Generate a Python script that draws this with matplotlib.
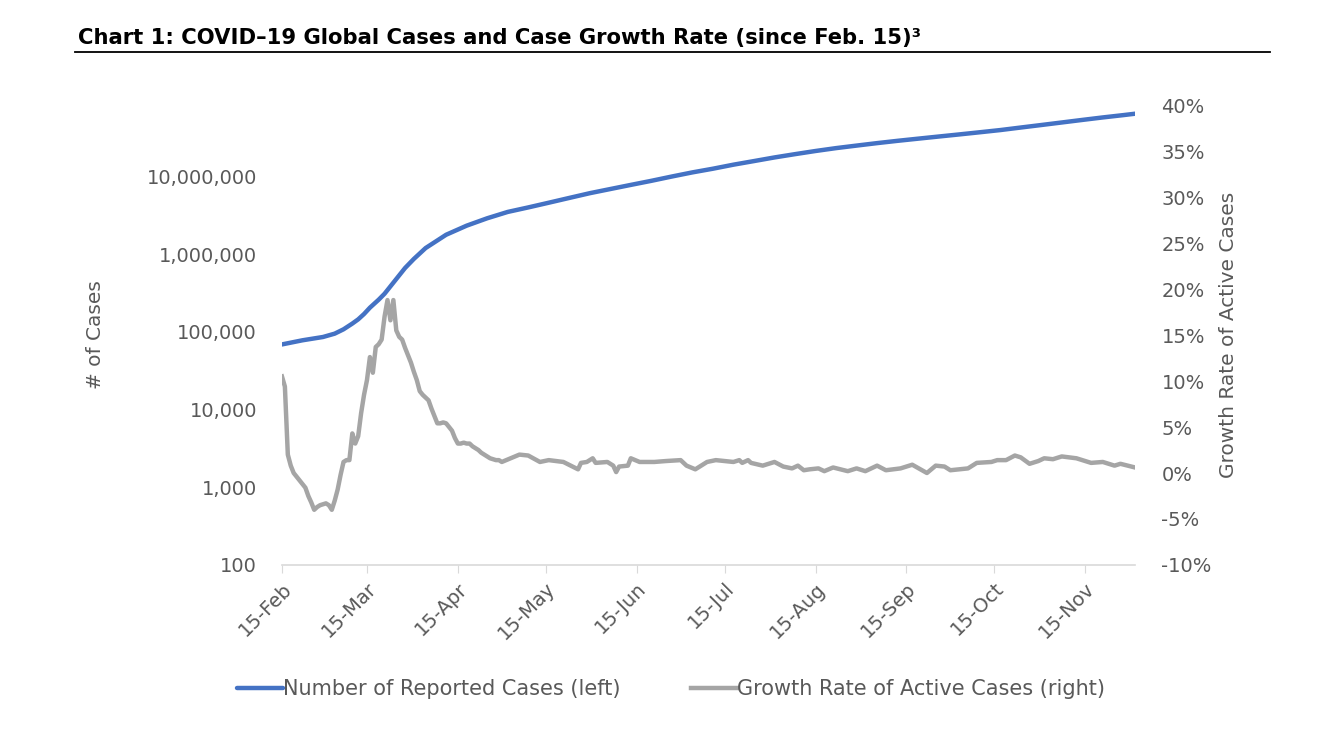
import matplotlib
matplotlib.use("Agg")
import matplotlib.pyplot as plt
import matplotlib.dates as mdates
from matplotlib.ticker import FuncFormatter, FixedLocator
import pandas as pd

plt.rcParams['font.family'] = ['DejaVu Sans']

START = pd.Timestamp('2020-02-15')

# reported cases (left axis), days since Feb 15
case_days = [0, 7, 14, 18, 21, 24, 26, 28, 30, 33, 35, 38, 42, 45, 49, 56, 63, 70, 77,
             84, 91, 98, 105, 112, 119, 126, 133, 140, 147, 154, 161, 168, 175,
             182, 189, 196, 203, 210, 217, 224, 231, 238, 245, 252, 259, 266,
             273, 280, 287, 291]
cases = [69e3, 78e3, 86e3, 95e3, 108e3, 128e3, 145e3, 170e3, 205e3, 260e3, 310e3, 430e3,
         665e3, 870e3, 1.2e6, 1.78e6, 2.33e6, 2.9e6, 3.5e6,
         4.0e6, 4.6e6, 5.3e6, 6.1e6, 6.9e6, 7.8e6, 8.8e6, 10.0e6, 11.3e6, 12.6e6,
         14.2e6, 15.8e6, 17.6e6, 19.4e6,
         21.3e6, 23.2e6, 25.0e6, 26.9e6, 28.8e6, 30.7e6, 32.7e6, 34.8e6, 37.1e6,
         39.6e6, 42.7e6, 46.0e6, 49.6e6, 53.5e6, 57.6e6, 61.7e6, 64.3e6]

# growth rate of active cases in % (right axis), days since Feb 15
growth_days = list(range(0, 75)) + [
    75, 81, 84, 88, 91, 96, 101, 102, 104, 106, 107, 111, 113, 114, 115, 118, 119,
    122, 127, 131, 136, 138, 141, 145, 148, 154, 156, 157, 159, 160, 164, 168,
    171, 174, 176, 178, 180, 183, 185, 188, 193, 196, 199, 203, 206, 211, 215,
    220, 223, 226, 228, 234, 237, 242, 244, 247, 250, 252, 255, 258, 260, 263,
    266, 271, 276, 280, 284, 286, 291]
growth = [10.5, 9.4, 2.0, 0.8, 0.0, -0.4, -0.8, -1.2, -1.6, -2.5, -3.2, -4.0, -3.7,
          -3.5, -3.4, -3.3, -3.5, -4.0, -3.0, -1.8, -0.2, 1.2, 1.4, 1.4, 4.3, 3.2,
          4.0, 6.5, 8.5, 10.1, 12.6, 10.9, 13.7, 14.0, 14.5, 17.0, 18.8, 16.6, 18.8,
          15.5, 14.8, 14.5, 13.6, 12.8, 12.0, 11.0, 10.1, 8.9, 8.5, 8.2, 7.9, 7.0,
          6.2, 5.4, 5.4, 5.5, 5.4, 5.0, 4.6, 3.8, 3.2, 3.2, 3.3, 3.2, 3.2, 2.9, 2.7,
          2.5, 2.2, 2.0, 1.8, 1.6, 1.5, 1.4, 1.4] + [
    1.2, 2.0, 1.9, 1.2, 1.4, 1.2, 0.4, 1.1, 1.2, 1.6, 1.1, 1.2, 0.8, 0.1, 0.7, 0.8,
    1.6, 1.2, 1.2, 1.3, 1.4, 0.8, 0.4, 1.2, 1.4, 1.2, 1.4, 1.1, 1.4, 1.1, 0.8, 1.2,
    0.7, 0.5, 0.8, 0.3, 0.4, 0.5, 0.2, 0.6, 0.2, 0.5, 0.2, 0.8, 0.3, 0.5, 0.9,
    0.0, 0.8, 0.7, 0.3, 0.5, 1.1, 1.2, 1.4, 1.4, 1.9, 1.7, 1.0, 1.3, 1.6, 1.5,
    1.8, 1.6, 1.1, 1.2, 0.8, 1.0, 0.6]

left_ticks = [100, 1000, 10000, 100000, 1000000, 10000000]
right_ticks = [-10, -5, 0, 5, 10, 15, 20, 25, 30, 35, 40]
tick_months = ['2020-02-15', '2020-03-15', '2020-04-15', '2020-05-15', '2020-06-15',
               '2020-07-15', '2020-08-15', '2020-09-15', '2020-10-15', '2020-11-15']

BLUE = '#4472C4'
GRAY = '#A5A5A5'
TXT = '#595959'

case_dates = START + pd.to_timedelta(case_days, unit='D')
growth_dates = START + pd.to_timedelta(growth_days, unit='D')

fig = plt.figure(figsize=(13.42, 7.35), dpi=100)
ax = fig.add_axes([0.2101, 0.2313, 0.6357, 0.6258])
ax2 = ax.twinx()

l1, = ax.plot(case_dates, cases, color=BLUE, lw=3.2, solid_capstyle='round',
              label='Number of Reported Cases (left)', zorder=3)
l2, = ax2.plot(growth_dates, growth, color=GRAY, lw=3.2,
               label='Growth Rate of Active Cases (right)', zorder=2)
ax.set_zorder(ax2.get_zorder() + 1)
ax.patch.set_visible(False)

ax.set_yscale('log')
ax.set_ylim(100, 10 ** 7.92)
ax.yaxis.set_major_locator(FixedLocator(left_ticks))
ax.yaxis.set_minor_locator(FixedLocator([]))
ax.yaxis.set_major_formatter(FuncFormatter(lambda v, p: f"{v:,.0f}"))

ax2.set_ylim(-10, 40)
ax2.set_yticks(right_ticks)
ax2.yaxis.set_major_formatter(FuncFormatter(lambda v, p: f"{v:.0f}%"))

ax.set_xlim(START, START + pd.Timedelta(days=291))
ax.set_xticks(pd.to_datetime(tick_months))
ax.xaxis.set_major_formatter(mdates.DateFormatter('%d-%b'))

for a in (ax, ax2):
    for s in a.spines.values():
        s.set_visible(False)
    a.tick_params(axis='y', length=0, labelsize=14, labelcolor=TXT)
ax.spines['bottom'].set_visible(True)
ax.spines['bottom'].set_color('#D9D9D9')
ax.spines['bottom'].set_linewidth(1.2)
ax.tick_params(axis='x', length=6, color='#D9D9D9', labelsize=14,
               labelcolor=TXT, pad=4)
ax.tick_params(axis='y', pad=18)
ax2.tick_params(axis='y', pad=19)
for lab in ax.get_xticklabels():
    lab.set_rotation(45)
    lab.set_ha('right')
    lab.set_rotation_mode('anchor')

ax.set_ylabel('# of Cases', fontsize=14.5, color=TXT, labelpad=30)
ax2.set_ylabel('Growth Rate of Active Cases', fontsize=14.5, color=TXT, labelpad=5)

fig.legend(handles=[l1, l2], loc='center', bbox_to_anchor=(0.5, 0.062), ncol=2,
           frameon=False, fontsize=15, handlelength=2.2, handletextpad=0.0,
           columnspacing=3.4, labelcolor=TXT)

fig.text(0.058, 0.948, 'Chart 1: COVID\u201319 Global Cases and Case Growth Rate (since Feb. 15)\u00b3',
         fontsize=15.2, fontweight='bold', color='black', va='center', ha='left')
fig.add_artist(plt.Line2D([0.056, 0.946], [0.929, 0.929], color='black', lw=1.3,
                          transform=fig.transFigure))

fig.savefig('out.png', dpi=100)
